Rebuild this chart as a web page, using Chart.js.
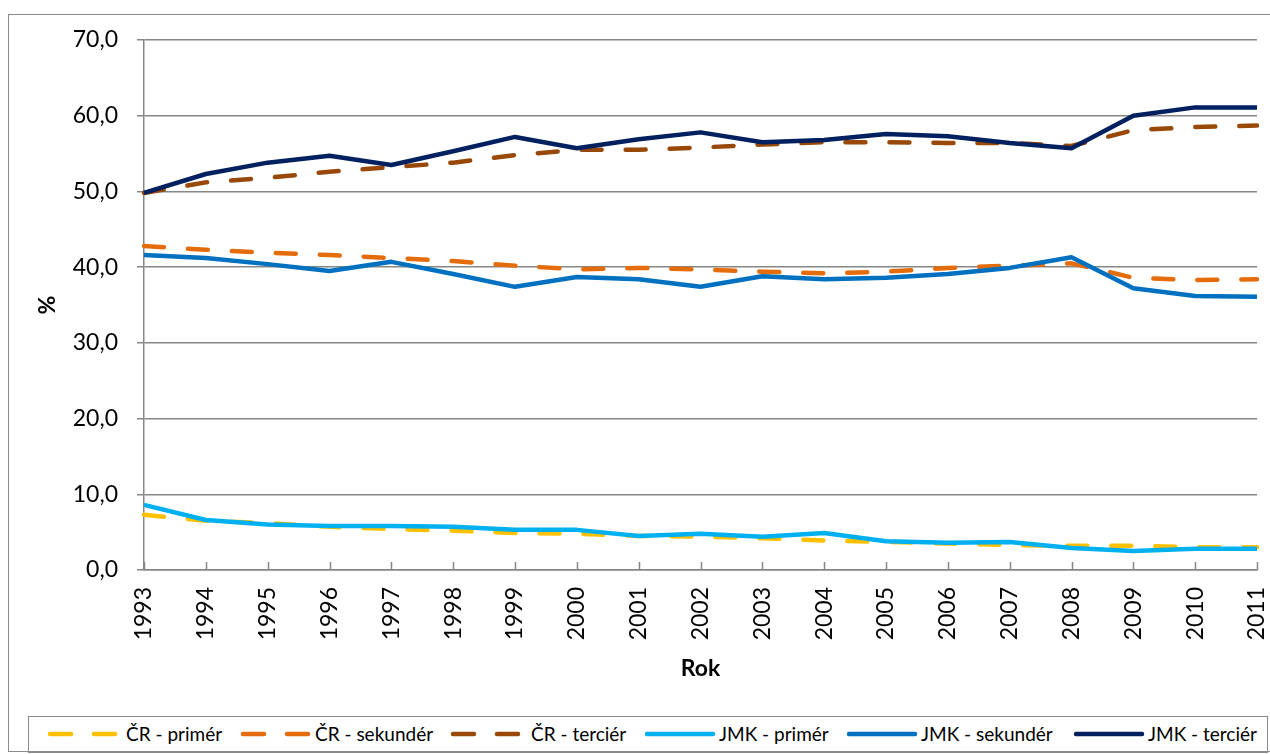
<!DOCTYPE html>
<html>
<head>
<meta charset="utf-8">
<script src="https://cdn.jsdelivr.net/npm/chart.js@4.4.0/dist/chart.umd.min.js"></script>
<style>
  body { margin: 0; background: #fff; }
  #wrap { position: relative; width: 1270px; height: 754px; overflow: hidden; font-family: Lato, "Open Sans", sans-serif; }
  #frame { position: absolute; left: 8px; top: 14px; width: 1280px; height: 738px; border: 1.5px solid #8a8a8a; box-sizing: border-box; }
  #graf { position: absolute; left: 0; top: 0; }
  #legenda { position: absolute; left: 28px; top: 716px; width: 1240px; height: 37px; border: 1.5px solid #8a8a8a; box-sizing: border-box;
             font-size: 19px; color: #000; }
  #legenda .car { position: absolute; top: 13px; line-height: 0; }
  #legenda .car svg { display: block; }
  #legenda .text { position: absolute; top: 6px; white-space: nowrap; line-height: 22px; }
</style>
</head>
<body>
<div id="wrap">
  <div id="frame"></div>
  <canvas id="graf" width="1270" height="700"></canvas>
  <div id="legenda"></div>
</div>
<script>
const roky = ['1993','1994','1995','1996','1997','1998','1999','2000','2001','2002','2003','2004','2005','2006','2007','2008','2009','2010','2011'];

const crPrimer    = [7.3, 6.5, 6.2, 5.7, 5.4, 5.2, 4.9, 4.8, 4.5, 4.4, 4.2, 3.9, 3.7, 3.5, 3.3, 3.2, 3.2, 3.0, 3.0];
const crSekunder  = [42.8, 42.3, 41.9, 41.6, 41.2, 40.8, 40.2, 39.7, 39.9, 39.7, 39.4, 39.2, 39.4, 39.9, 40.2, 40.5, 38.6, 38.3, 38.4];
const crTercier   = [49.8, 51.2, 51.8, 52.6, 53.2, 53.8, 54.8, 55.5, 55.5, 55.8, 56.2, 56.5, 56.5, 56.4, 56.4, 56.0, 58.1, 58.5, 58.7];
const jmkPrimer   = [8.6, 6.6, 6.0, 5.8, 5.8, 5.7, 5.3, 5.3, 4.5, 4.8, 4.4, 4.9, 3.8, 3.6, 3.7, 2.9, 2.5, 2.8, 2.8];
const jmkSekunder = [41.6, 41.2, 40.4, 39.5, 40.7, 39.1, 37.4, 38.7, 38.4, 37.4, 38.8, 38.4, 38.6, 39.1, 39.9, 41.3, 37.2, 36.2, 36.1];
const jmkTercier  = [49.8, 52.3, 53.8, 54.7, 53.5, 55.3, 57.2, 55.7, 56.9, 57.8, 56.5, 56.8, 57.6, 57.3, 56.4, 55.7, 60.0, 61.1, 61.1];

const nazvy = ['ČR - primér', 'ČR - sekundér', 'ČR - terciér', 'JMK - primér', 'JMK - sekundér', 'JMK - terciér'];
const barvy = ['#FFC000', '#E46C0A', '#984807', '#00B0F0', '#0070C0', '#002060'];
const hodnoty = [crPrimer, crSekunder, crTercier, jmkPrimer, jmkSekunder, jmkTercier];

const sedaOsa = '#868686';
const pismo = 'Lato, "Open Sans", sans-serif';

// carky na ose x smeruji dovnitr grafu
const vnitrniCarky = {
    id: 'vnitrniCarky',
    afterDraw(chart) {
        const osa = chart.scales.x;
        const ctx = chart.ctx;
        ctx.save();
        ctx.strokeStyle = sedaOsa;
        ctx.lineWidth = 1.5;
        osa.ticks.forEach((t, i) => {
            const x = Math.round(osa.getPixelForTick(i)) + 0.5;
            ctx.beginPath();
            ctx.moveTo(x, chart.chartArea.bottom);
            ctx.lineTo(x, chart.chartArea.bottom - 8);
            ctx.stroke();
        });
        ctx.restore();
    }
};

const datasety = hodnoty.map((data, i) => {
    const carkovana = i < 3;
    return {
        label: nazvy[i],
        data: data,
        borderColor: barvy[i],
        backgroundColor: barvy[i],
        borderWidth: 4.5,
        borderDash: carkovana ? [20, 24] : [],
        borderCapStyle: carkovana ? 'round' : 'butt',
        borderJoinStyle: 'round',
        pointRadius: 0,
        tension: 0,
        order: carkovana ? 2 : 1
    };
});

const ctx = document.getElementById('graf').getContext('2d');
const graf = new Chart(ctx, {
    type: 'line',
    data: { labels: roky, datasets: datasety },
    options: {
        responsive: false,
        animation: false,
        devicePixelRatio: 1,
        layout: { padding: { left: 28, top: 40, right: 13, bottom: 0 } },
        plugins: { legend: { display: false }, tooltip: { enabled: false } },
        scales: {
            x: {
                offset: false,
                grid: { drawOnChartArea: false, drawTicks: false },
                border: { color: sedaOsa, width: 1.5 },
                ticks: { color: '#000', font: { family: pismo, size: 23 }, maxRotation: 90, minRotation: 90, padding: 17, autoSkip: false },
                title: { display: true, text: 'Rok', color: '#000', font: { family: pismo, size: 23, weight: 'bold' }, padding: { top: 0, bottom: 18 } },
                afterFit(scale) {
                    scale.height = 130;
                    scale.paddingLeft = 0;
                    scale.paddingRight = 0;
                }
            },
            y: {
                min: 0,
                max: 70,
                ticks: {
                    stepSize: 10,
                    color: '#000',
                    font: { family: pismo, size: 23 },
                    padding: 19,
                    callback: v => v.toFixed(1).replace('.', ',')
                },
                grid: { color: sedaOsa, lineWidth: 1.5, tickLength: 7 },
                border: { color: sedaOsa, width: 1.5 },
                title: { display: true, text: '%', color: '#000', font: { family: pismo, size: 23, weight: 'bold' }, padding: { top: 6, bottom: 6 } },
                afterFit(scale) { scale.width = 116; }
            }
        }
    },
    plugins: [vnitrniCarky]
});

// legenda v ramecku pod grafem
const legendaCara = [18, 211, 421, 616, 818, 1045];
const legendaText = [97, 286, 502, 690, 892, 1119];
const legenda = document.getElementById('legenda');
nazvy.forEach((nazev, i) => {
    const carkovana = i < 3;
    const car = carkovana
        ? `<line x1="3" y1="4" x2="70" y2="4" stroke="${barvy[i]}" stroke-width="4.5" stroke-linecap="round" stroke-dasharray="21 23"/>`
        : `<line x1="2" y1="4" x2="68" y2="4" stroke="${barvy[i]}" stroke-width="4.5" stroke-linecap="round"/>`;
    const s = document.createElement('div');
    s.className = 'car';
    s.style.left = legendaCara[i] + 'px';
    s.innerHTML = `<svg width="74" height="8">${car}</svg>`;
    const t = document.createElement('div');
    t.className = 'text';
    t.style.left = legendaText[i] + 'px';
    t.textContent = nazev;
    legenda.appendChild(s);
    legenda.appendChild(t);
});
</script>
</body>
</html>
